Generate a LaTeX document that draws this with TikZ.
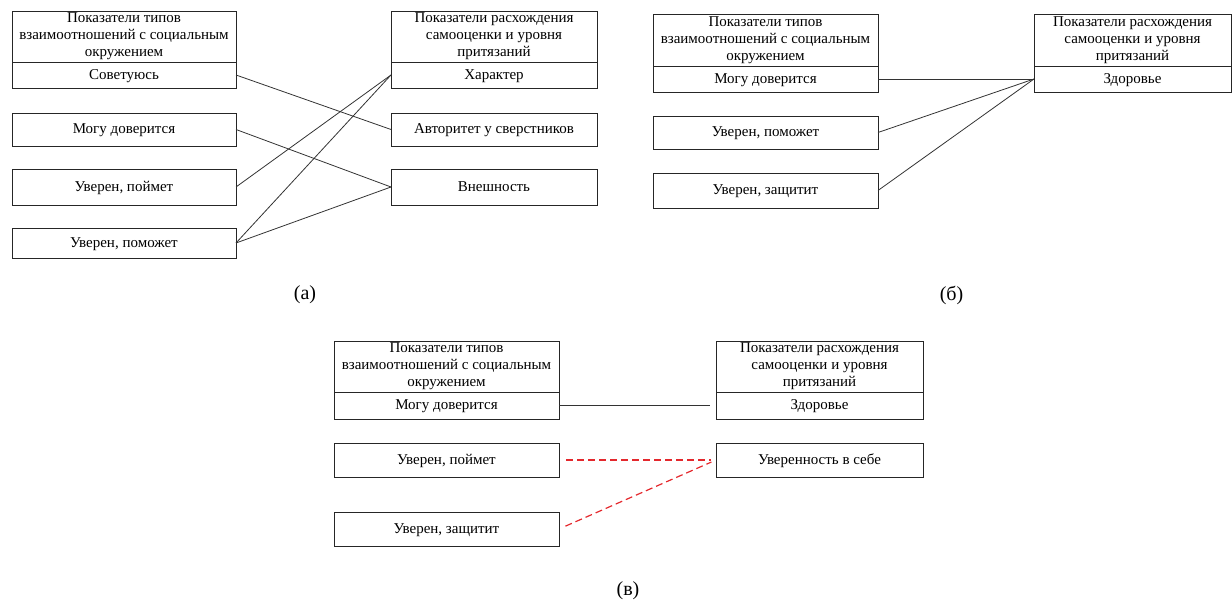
\documentclass[tikz,border=0pt]{standalone}
\usepackage{fontspec}
\setmainfont{Liberation Serif}
\usetikzlibrary{positioning}

\definecolor{linkred}{RGB}{228,40,45}

\tikzset{
  box/.style={draw=black!85, line width=0.9pt, inner sep=0pt, outer sep=0pt,
    align=center, minimum width=#1pt, font=\fontsize{15}{17}\selectfont},
  item/.style={box=#1, text height=12pt, text depth=3pt},
  link/.style={draw=black!80, line width=0.8pt},
  redlink/.style={draw=linkred, line width=1.2pt, dash pattern=on 7pt off 4pt},
  caption/.style={font=\fontsize{20}{24}\selectfont}
}

\begin{document}
\begin{tikzpicture}[x=1pt,y=-1pt]
\useasboundingbox (0,0) rectangle (1232,601);

% (a)
\node[box=224, minimum height=51pt] (ahL) at (124,36.5) {Показатели типов\\взаимоотношений с социальным\\окружением};
\node[item=224, minimum height=26pt, below=0pt of ahL] (aL1) {Советуюсь};
\node[item=224, minimum height=33pt, below=25pt of aL1] (aL2) {Могу доверится};
\node[item=224, minimum height=36pt, below=23pt of aL2] (aL3) {Уверен, поймет};
\node[item=224, minimum height=30pt, below=23pt of aL3] (aL4) {Уверен, поможет};

\node[box=206, minimum height=51pt] (ahR) at (494,36.5) {Показатели расхождения\\самооценки и уровня\\притязаний};
\node[item=206, minimum height=26pt, below=0pt of ahR] (aR1) {Характер};
\node[item=206, minimum height=33pt, below=25pt of aR1] (aR2) {Авторитет у сверстников};
\node[item=206, minimum height=36pt, below=23pt of aR2] (aR3) {Внешность};

\draw[link] (aL1.east) -- (aR2.west);
\draw[link] (aL2.east) -- (aR3.west);
\draw[link] (aL3.east) -- (aR1.west);
\draw[link] (aL4.east) -- (aR1.west);
\draw[link] (aL4.east) -- (aR3.west);

\node[caption] (capA) at (305,295) {(а)};

% (b)
\node[box=225, minimum height=52pt] (bhL) at (765.5,40) {Показатели типов\\взаимоотношений с социальным\\окружением};
\node[item=225, minimum height=26pt, below=0pt of bhL] (bL1) {Могу доверится};
\node[item=225, minimum height=33pt, below=24pt of bL1] (bL2) {Уверен, поможет};
\node[item=225, minimum height=35pt, below=24pt of bL2] (bL3) {Уверен, защитит};

\node[box=197, minimum height=52pt] (bhR) at (1132.5,40) {Показатели расхождения\\самооценки и уровня\\притязаний};
\node[item=197, minimum height=26pt, below=0pt of bhR] (bR1) {Здоровье};

\draw[link] (bL1.east) -- (bR1.west);
\draw[link] (bL2.east) -- (bR1.west);
\draw[link] (bL3.east) -- (bR1.west);

\node[caption] (capB) at (951.5,295) {(б)};

% (c)
\node[box=225, minimum height=51pt] (chL) at (446.5,366.5) {Показатели типов\\взаимоотношений с социальным\\окружением};
\node[item=225, minimum height=27pt, below=0pt of chL] (cL1) {Могу доверится};
\node[item=225, minimum height=34pt, below=24pt of cL1] (cL2) {Уверен, поймет};
\node[item=225, minimum height=34pt, below=35pt of cL2] (cL3) {Уверен, защитит};

\node[box=207, minimum height=51pt] (chR) at (819.5,366.5) {Показатели расхождения\\самооценки и уровня\\притязаний};
\node[item=207, minimum height=27pt, below=0pt of chR] (cR1) {Здоровье};
\node[item=207, minimum height=34pt, below=24pt of cR1] (cR2) {Уверенность в себе};

\draw[link, shorten >=6pt] (cL1.east) -- (cR1.west);
\draw[redlink, shorten <=7pt, shorten >=5pt] (cL2.east) -- (cR2.west);
\draw[redlink, shorten <=7pt, shorten >=5pt] (cL3.east) -- (cR2.west);

\node[caption] (capC) at (628,591) {(в)};
\end{tikzpicture}
\end{document}
